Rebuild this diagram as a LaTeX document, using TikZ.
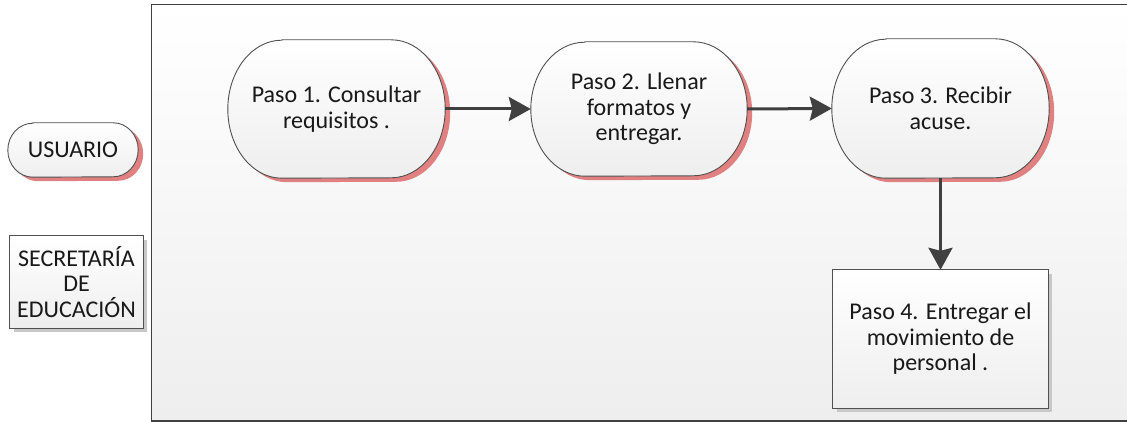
\documentclass[tikz,border=0pt]{standalone}
\usepackage{fontspec}
\setmainfont{Carlito}
\usetikzlibrary{arrows.meta}
\definecolor{shadowred}{RGB}{224,128,128}
\definecolor{shadowgray}{RGB}{200,200,200}
\definecolor{linegray}{RGB}{80,80,80}
\definecolor{arrowgray}{RGB}{64,64,64}
\definecolor{fillgray}{RGB}{238,238,238}
\definecolor{framegray}{RGB}{238,238,238}
\definecolor{txt}{RGB}{25,25,25}
\pgfdeclarelayer{bgzero}
\pgfdeclarelayer{bgone}
\pgfsetlayers{bgzero,bgone,main}
\newcommand\stadpath[4]{%
  \path[#4] ([xshift=#2]#1.north west) -- ([xshift=-#2]#1.north east)
    arc[start angle=90,end angle=-90,x radius=#2,y radius=#3]
    -- ([xshift=#2]#1.south west)
    arc[start angle=270,end angle=90,x radius=#2,y radius=#3] -- cycle;}
\newcommand\stadium[3]{%
  \begin{pgfonlayer}{bgone}
  \stadpath{#1}{#2}{#3}{fill=shadowred, transform canvas={shift={(5pt,-4pt)}}}
  \stadpath{#1}{#2}{#3}{draw=linegray, line width=0.9pt, top color=white, bottom color=fillgray}
  \end{pgfonlayer}}
\newcommand\boxshape[1]{%
  \begin{pgfonlayer}{bgone}
  \fill[shadowgray] ([shift={(4pt,-4pt)}]#1.north west) rectangle ([shift={(4pt,-4pt)}]#1.south east);
  \shade[draw=linegray, line width=0.9pt, top color=white, bottom color=fillgray] (#1.north west) rectangle (#1.south east);
  \end{pgfonlayer}}
\tikzset{
  lbl/.style={inner sep=0pt, align=center, text=txt, font=\fontsize{24pt}{25.5pt}\selectfont},
  stad/.style={lbl, minimum width=217pt, minimum height=138pt},
  flow/.style={draw=arrowgray, line width=3pt, -{Stealth[length=22pt,width=24pt,inset=3pt]}}
}
\begin{document}
\begin{tikzpicture}[x=1pt,y=1pt]
\useasboundingbox (0,0) rectangle (1127,422);
\begin{pgfonlayer}{bgzero}
\fill[white] (0,0) rectangle (1127,422);
\shade[top color=white, bottom color=framegray, draw=arrowgray, line width=1.3pt] (151.5,1) rectangle (1140,417.5);
\end{pgfonlayer}

\node[lbl, minimum width=130pt, minimum height=54pt] (usr) at (73,272) {USUARIO};
\node[lbl, minimum width=133pt, minimum height=92pt] (sec) at (76.5,140) {SECRETARÍA\\DE\\EDUCACIÓN};

\node[stad] (p1) at (336.5,313) {Paso 1. Consultar\\requisitos .};
\node[stad, minimum width=216pt, minimum height=134pt] (p2) at (639,313) {Paso 2. Llenar\\formatos y\\entregar.};
\node[stad, minimum height=139pt] (p3) at (940.5,313.5) {Paso 3. Recibir\\acuse.};
\node[lbl, minimum width=215pt, minimum height=138pt] (p4) at (940.5,83) {Paso 4. Entregar el\\movimiento de\\personal .};

\stadium{usr}{25pt}{27pt}
\boxshape{sec}
\stadium{p1}{54pt}{69pt}
\stadium{p2}{54pt}{67pt}
\stadium{p3}{54pt}{69.5pt}
\boxshape{p4}

\draw[flow] (p1.east) -- (p2.west);
\draw[flow] (p2.east) -- (p3.west);
\draw[flow] (p3.south) -- (p4.north);
\end{tikzpicture}
\end{document}
